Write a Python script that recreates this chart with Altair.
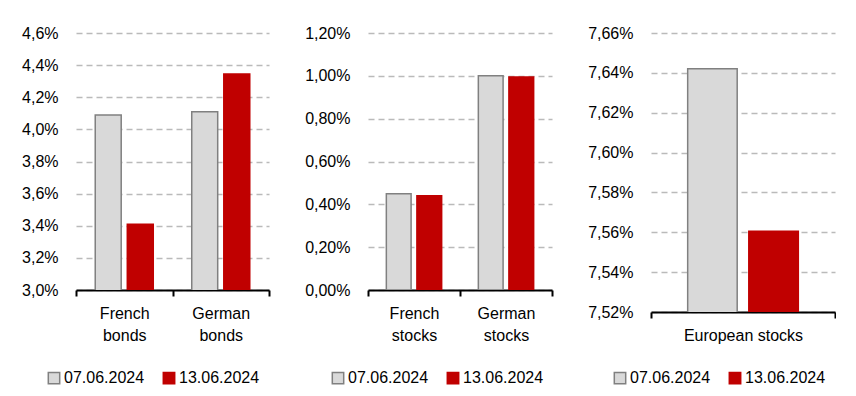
import altair as alt
import pandas as pd

series = ["07.06.2024", "13.06.2024"]

bond_cats = ["French bonds", "German bonds"]
bond_0706 = [4.09, 4.11]
bond_1306 = [3.41, 4.345]
bond_ticks = [3.0, 3.2, 3.4, 3.6, 3.8, 4.0, 4.2, 4.4, 4.6]

stock_cats = ["French stocks", "German stocks"]
stock_0706 = [0.45, 1.00]
stock_1306 = [0.44, 0.995]
stock_ticks = [0.0, 0.2, 0.4, 0.6, 0.8, 1.0, 1.2]

eu_cats = ["European stocks"]
eu_0706 = [7.642]
eu_1306 = [7.5605]
eu_ticks = [7.52, 7.54, 7.56, 7.58, 7.60, 7.62, 7.64, 7.66]

FONT = "Liberation Sans"
fill_colors = ["#d9d9d9", "#c00000"]
stroke_colors = ["#808080", "#c00000"]


def frame(cats, a, b):
    rows = []
    for c, v in zip(cats, a):
        rows.append({"cat": c, "series": series[0], "value": v})
    for c, v in zip(cats, b):
        rows.append({"cat": c, "series": series[1], "value": v})
    return pd.DataFrame(rows)


def panel(df, cats, ticks, decimals, w, h, split, lx, ly):
    label_expr = "split(datum.label, ' ')" if split else "datum.label"
    y_expr = f"replace(format(datum.value, '.{decimals}f'), '.', ',') + '%'"
    leg = alt.Legend(
        orient="none", direction="horizontal", legendX=lx, legendY=ly,
        title=None, symbolType="square", symbolSize=130, symbolStrokeWidth=1.5,
        labelFont=FONT, labelFontSize=16, labelColor="black", labelOffset=2,
        columnPadding=15, padding=0,
    )
    return alt.Chart(df).mark_bar(strokeWidth=1.5, clip=True).encode(
        x=alt.X(
            "cat:N", sort=cats, title=None,
            scale=alt.Scale(paddingInner=0, paddingOuter=0),
            axis=alt.Axis(
                labelAngle=0, tickBand="extent", domainColor="black", domainWidth=2,
                tickColor="black", tickWidth=2, tickSize=6, labelPadding=9,
                labelLineHeight=22, labelExpr=label_expr, grid=False,
                labelFont=FONT, labelFontSize=16, labelColor="black",
            ),
        ),
        xOffset=alt.XOffset(
            "series:N", sort=series,
            scale=alt.Scale(paddingInner=0.19, paddingOuter=0.6),
        ),
        y=alt.Y(
            "value:Q", title=None,
            scale=alt.Scale(domain=[ticks[0], ticks[-1]], nice=False, zero=False),
            axis=alt.Axis(
                values=ticks, labelExpr=y_expr, domain=False, ticks=False,
                grid=True, gridColor="#bababa", gridDash=[6, 4], gridWidth=1.5,
                labelPadding=18, labelFont=FONT, labelFontSize=16, labelColor="black",
            ),
        ),
        fill=alt.Fill("series:N", sort=series,
                      scale=alt.Scale(domain=series, range=fill_colors), legend=leg),
        stroke=alt.Stroke("series:N", sort=series,
                          scale=alt.Scale(domain=series, range=stroke_colors), legend=leg),
    ).properties(width=w, height=h)


p1 = panel(frame(bond_cats, bond_0706, bond_1306), bond_cats, bond_ticks, 1, 193, 257, True, -30, 337)
p2 = panel(frame(stock_cats, stock_0706, stock_1306), stock_cats, stock_ticks, 2, 184, 257, True, -38, 337)
p3 = panel(frame(eu_cats, eu_0706, eu_1306), eu_cats, eu_ticks, 2, 184, 279, False, -39, 337)

chart = alt.hconcat(p1, p2, p3, spacing=34).resolve_scale(
    fill="independent", stroke="independent", x="independent", y="independent", xOffset="independent"
).properties(
    padding={"left": 13, "top": 17, "right": 0, "bottom": 0}
).configure(background="white").configure_view(stroke=None)

chart.save("out.html", embed_options={"renderer": "svg", "actions": False})
